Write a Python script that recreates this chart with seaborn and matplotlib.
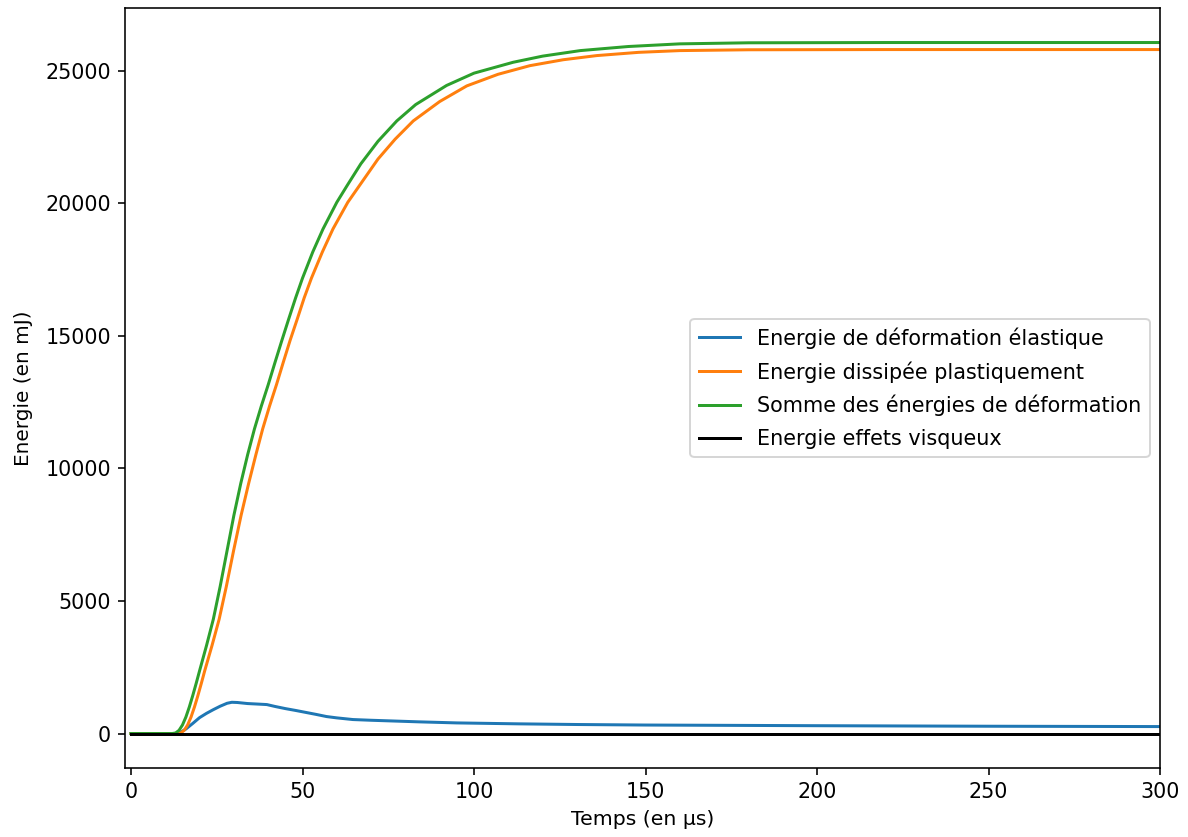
import numpy as np
import pandas as pd
import matplotlib
matplotlib.use("Agg")
import matplotlib.pyplot as plt
import seaborn as sns

# --- data ---
t_elast = [0, 13, 14, 16, 18, 20, 22, 24, 26, 28, 29.4, 31, 34, 37, 39.6, 42, 45, 48, 51.2, 54, 57, 60, 64.7,
           70, 77, 84, 95, 113, 130, 150, 180, 200, 250, 300]
e_elast = [0, 0, 10, 170, 380, 600, 760, 900, 1030, 1140, 1178, 1170, 1130, 1110, 1092, 1020, 940, 870, 790,
           720, 640, 590, 527, 500, 470, 440, 400, 365, 340, 320, 305, 295, 275, 262]

t_plast = [0, 13.5, 14.5, 15.5, 16.5, 17.5, 18.5, 19.5, 20.5, 21.5, 23.6, 25.7, 27.8, 29.9, 32.1, 34.3, 36.4,
           38.4, 40.4, 42.4, 44.4, 46.4, 48.5, 50.5, 52.6, 55.8, 58.9, 63.2, 66.6, 72, 77, 82.3, 90, 97.9, 107,
           116.3, 126, 135.8, 148, 160, 180, 220, 300]
e_plast = [0, 0, 20, 120, 320, 620, 1000, 1430, 1890, 2370, 3310, 4310, 5550, 6890, 8230, 9430, 10510,
           11490, 12350, 13150, 14000, 14830, 15640, 16430, 17170, 18160, 19030, 20030, 20660, 21660, 22410,
           23100, 23830, 24420, 24857, 25183, 25406, 25563, 25685, 25751, 25782, 25790, 25790]

t_somme = [0, 12, 13, 14, 15, 16, 17, 18, 19, 20, 22, 24, 26, 28, 30, 32, 34, 36, 38, 40, 42, 44, 46, 48, 50,
           53, 56, 60, 63, 67, 72, 77.5, 83, 92, 100, 111.4, 120, 131, 145, 160, 180, 220, 300]
e_somme = [0, 0, 20, 120, 320, 620, 1000, 1430, 1890, 2370, 3310, 4310, 5550, 6890, 8230, 9430, 10510,
           11490, 12350, 13150, 14000, 14830, 15640, 16430, 17170, 18160, 19030, 20030, 20660, 21480, 22330,
           23100, 23716, 24436, 24900, 25310, 25542, 25751, 25905, 26005, 26045, 26055, 26055]

t_visq = [0, 100, 200, 300]
e_visq = [0, 0, 0, 0]

labels = ["Energie de déformation élastique",
          "Energie dissipée plastiquement",
          "Somme des énergies de déformation",
          "Energie effets visqueux"]
colors = ["#1f77b4", "#ff7f0e", "#2ca02c", "#000000"]

frames = []
for lab, tt, ee in zip(labels, [t_elast, t_plast, t_somme, t_visq], [e_elast, e_plast, e_somme, e_visq]):
    frames.append(pd.DataFrame({"t": tt, "E": ee, "serie": lab}))
df = pd.concat(frames, ignore_index=True)

plt.rcParams["font.family"] = ["DejaVu Sans"]

DPI = 144
fig = plt.figure(figsize=(1188 / DPI, 837 / DPI), dpi=DPI)
ax = fig.add_axes([125 / 1188, 1 - 768 / 837, (1160 - 125) / 1188, (768 - 8) / 837])

sns.lineplot(data=df, x="t", y="E", hue="serie", hue_order=labels,
             palette=dict(zip(labels, colors)), estimator=None, sort=False,
             linewidth=1.5, ax=ax)

ax.set_xlim(-1.75, 300)
ax.set_ylim(-1300, 27357)
ax.set_xticks([0, 50, 100, 150, 200, 250, 300])
ax.set_yticks([0, 5000, 10000, 15000, 20000, 25000])
ax.tick_params(labelsize=10.3)
ax.set_xlabel("Temps (en µs)", fontsize=10.2)
ax.set_ylabel("Energie (en mJ)", fontsize=10, labelpad=6)

leg = ax.legend(loc="center right", prop={"size": 10.4}, labelspacing=0.6)
leg.set_title(None)

fig.savefig("out.png", dpi=DPI)
